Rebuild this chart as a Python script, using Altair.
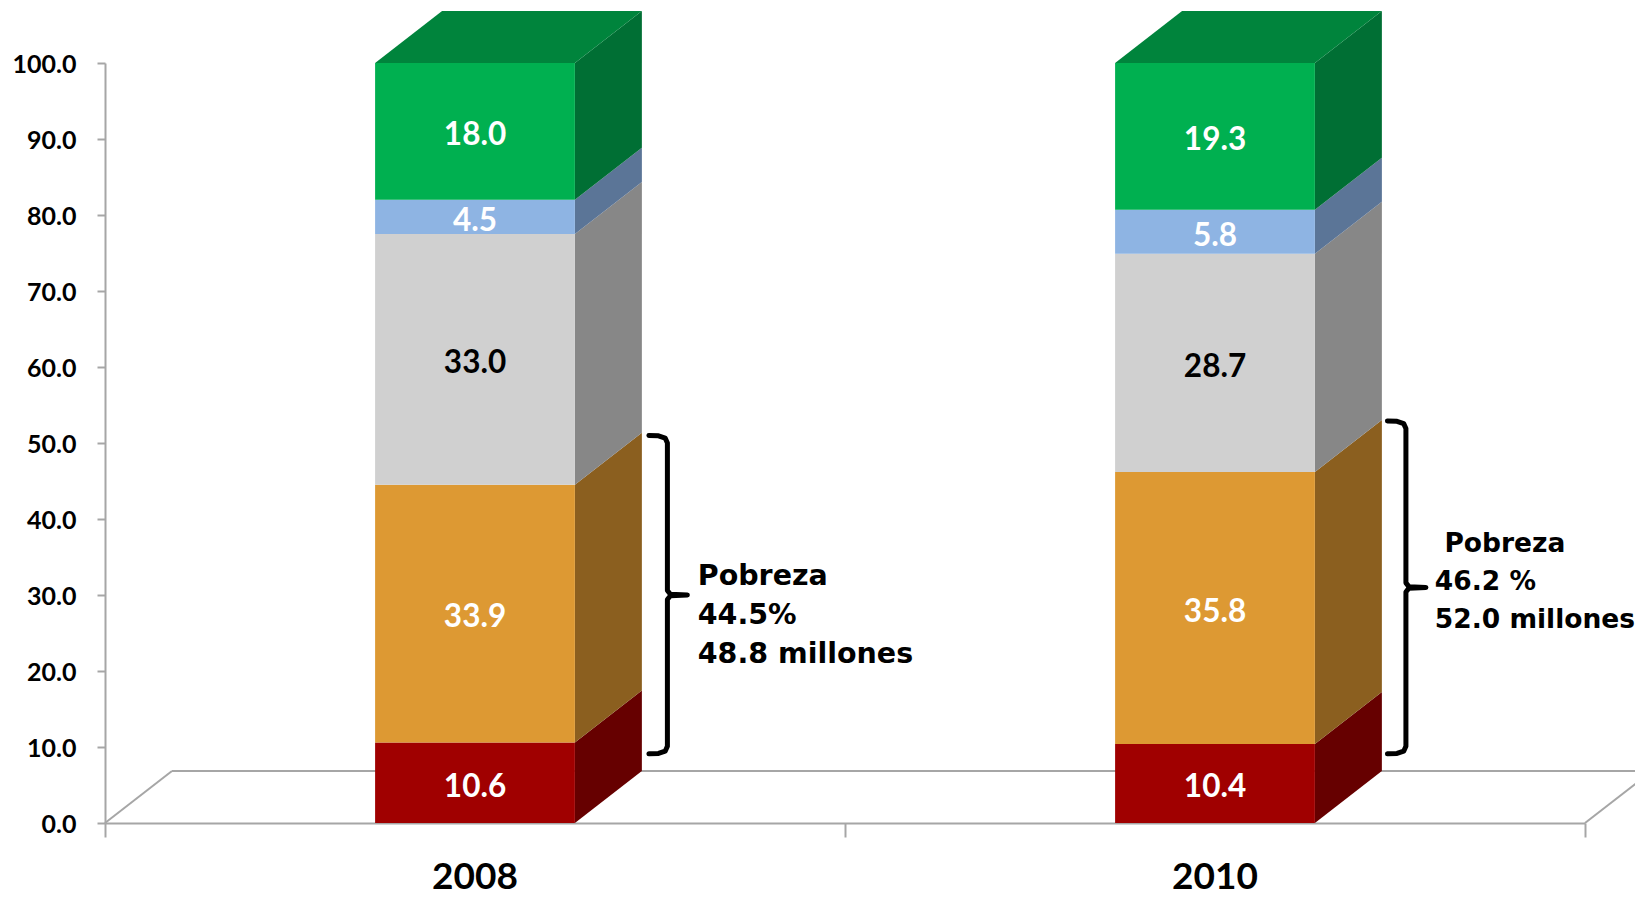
import altair as alt
import pandas as pd

years = ["2008", "2010"]
centers = [0.5, 1.5]
segments = ["a", "b", "c", "d", "e"]
values_2008 = [10.6, 33.9, 33.0, 4.5, 18.0]
values_2010 = [10.4, 35.8, 28.7, 5.8, 19.3]
front_colors = ["#A00000", "#DD9933", "#D0D0D0", "#8EB4E3", "#00B050"]
side_colors = ["#660000", "#8B5F1F", "#878787", "#5B7597", "#006F34"]
top_color = "#00843C"
label_colors = ["white", "white", "black", "white", "white"]
y_ticks = [0, 10, 20, 30, 40, 50, 60, 70, 80, 90, 100]
x_ticks = [0, 1, 2]

HALF = 0.135
DX = 0.0905
DY = 6.84
AXIS = "#A6A6A6"

front, side, top, labels = [], [], [], []
for yr, c, vals in zip(years, centers, [values_2008, values_2010]):
    lo = 0.0
    for seg, v, lc, fc, sc in zip(segments, vals, label_colors, front_colors, side_colors):
        hi = lo + v
        front.append(dict(col=fc, x=c - HALF, x2=c + HALF, y=lo, y2=hi))
        side.append(dict(id=yr + seg, col=sc, x=c + HALF, y=lo, y2=hi))
        side.append(dict(id=yr + seg, col=sc, x=c + HALF + DX, y=lo + DY, y2=hi + DY))
        labels.append(dict(x=c, y=(lo + hi) / 2 - 0.63, t=f"{v:.1f}", col=lc))
        lo = hi
    x0, x1 = c - HALF, c + HALF
    top += [
        dict(id=yr, x=x0, y=100, y2=100),
        dict(id=yr, x=x0 + DX, y=100, y2=100 + DY),
        dict(id=yr, x=x1, y=100, y2=100 + DY),
        dict(id=yr, x=x1 + DX, y=100 + DY, y2=100 + DY),
    ]

floor = [
    dict(id="l", o=0, x=0, y=0), dict(id="l", o=1, x=DX, y=DY),
    dict(id="b", o=0, x=DX, y=DY), dict(id="b", o=1, x=2 + DX, y=DY),
    dict(id="r", o=0, x=2, y=0), dict(id="r", o=1, x=2 + DX, y=DY),
]

# brackets, in chart units
def bracket(name, xl, xc, xt, ytop, ybot, ytip):
    pts = [(xl, ytop), (xc - 0.012, ytop - 0.05), (xc - 0.003, ytop - 0.35), (xc, ytop - 1.0),
           (xc, ytip + 0.6), (xc + 0.004, ytip + 0.1), (xt, ytip), (xc + 0.004, ytip - 0.1),
           (xc, ytip - 0.6), (xc, ybot + 1.0), (xc - 0.003, ybot + 0.35), (xc - 0.012, ybot + 0.05), (xl, ybot)]
    return [dict(id=name, o=i, x=a, y=b) for i, (a, b) in enumerate(pts)]

brackets = bracket("a", 0.735, 0.760, 0.787, 51.0, 9.1, 30.0) + bracket("b", 1.733, 1.758, 1.785, 52.9, 9.1, 31.0)

note_rows = [
    dict(x=0.801, y=32.47, t="Pobreza", fs=28.5),
    dict(x=0.801, y=27.37, t="44.5%", fs=28.5),
    dict(x=0.801, y=22.27, t="48.8 millones", fs=28.5),
    dict(x=1.810, y=36.77, t="Pobreza", fs=26.5),
    dict(x=1.797, y=31.67, t="46.2 %", fs=26.5),
    dict(x=1.797, y=26.67, t="52.0 millones", fs=26.5),
]
year_rows = [dict(x=c, y=-7.24, t=t) for c, t in zip(centers, years)]

xs = alt.Scale(domain=[0, 2], nice=False, zero=False)
ys = alt.Scale(domain=[0, 100], nice=False)
X = alt.X("x:Q", scale=xs, title=None, axis=alt.Axis(
    values=x_ticks, labels=False, grid=False, tickSize=14, tickColor=AXIS, tickWidth=2,
    domainColor=AXIS, domainWidth=2))
Y = alt.Y("y:Q", scale=ys, title=None, axis=alt.Axis(
    values=y_ticks, format=".1f", grid=False, tickSize=8, tickColor=AXIS, tickWidth=2,
    domainColor=AXIS, domainWidth=2, labelFont="Lato", labelFontWeight="bold",
    labelFontSize=25, labelColor="black", labelPadding=21, labelOffset=1.5))
COL = alt.Color("col:N", scale=None)

axes = alt.Chart(pd.DataFrame(floor)).mark_line(color=AXIS, strokeWidth=2).encode(
    x=X, y=Y, detail="id:N", order="o:Q",
)
side_faces = alt.Chart(pd.DataFrame(side)).mark_area(orient="vertical", line=False).encode(
    x=X, y=Y, y2="y2:Q", detail="id:N", color=COL,
)
top_faces = alt.Chart(pd.DataFrame(top)).mark_area(orient="vertical", color=top_color).encode(
    x=X, y=Y, y2="y2:Q", detail="id:N",
)
front_faces = alt.Chart(pd.DataFrame(front)).mark_rect().encode(
    x=X, x2="x2:Q", y=Y, y2="y2:Q", color=COL,
)
value_text = alt.Chart(pd.DataFrame(labels)).mark_text(
    font="Lato", fontWeight="bold", fontSize=31.5, align="center", baseline="middle"
).encode(x=X, y=Y, text="t:N", color=COL)
bracket_lines = alt.Chart(pd.DataFrame(brackets)).mark_line(
    color="black", strokeWidth=5, strokeJoin="round", strokeCap="round"
).encode(x=X, y=Y, detail="id:N", order="o:Q")
notes = alt.Chart(pd.DataFrame(note_rows)).mark_text(
    font="DejaVu Sans", fontWeight="bold", align="left", baseline="middle", color="black"
).encode(x=X, y=Y, text="t:N", size=alt.Size("fs:Q", scale=None))
year_text = alt.Chart(pd.DataFrame(year_rows)).mark_text(
    font="Lato", fontWeight="bold", fontSize=37, align="center", baseline="middle", color="black"
).encode(x=X, y=Y, text="t:N")

chart = alt.layer(
    axes, side_faces, top_faces, front_faces, value_text, bracket_lines, notes, year_text
).properties(
    width=1480, height=760,
    autosize="none",
    padding={"left": 97, "top": 55, "right": 50, "bottom": 74},
    background="white",
).configure_view(stroke=None)

chart.save("out.html", embed_options={"renderer": "svg", "actions": False})
